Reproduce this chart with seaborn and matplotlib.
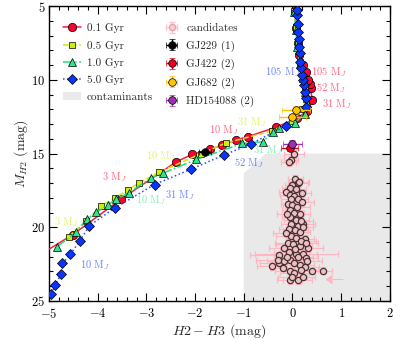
import matplotlib
matplotlib.use("Agg")
import matplotlib.pyplot as plt
import numpy as np
import seaborn as sns

# model tracks (H2-H3 colour, absolute H2 mag)
age_labels = ["0.1 Gyr", "0.5 Gyr", "1.0 Gyr", "5.0 Gyr"]

t01_x = [-5.2, -4.51, -3.52, -2.38, -2.06, -1.70, -1.44, -1.16, -0.92, -0.33, 0.10, 0.30,
         0.40, 0.38, 0.35, 0.32, 0.27, 0.22, 0.14, 0.11, 0.08, 0.05]
t01_y = [21.9, 20.5, 18.1, 15.55, 15.06, 14.72, 14.42, 14.08, 13.86, 13.2, 12.6, 12.1,
         11.4, 10.58, 10.3, 10.0, 9.45, 9.0, 8.3, 7.5, 6.5, 5.3]

t05_x = [-4.59, -4.23, -3.93, -3.65, -3.38, -3.14, -2.73, -1.87, -1.36, -0.42, 0.0, 0.20,
         0.28, 0.26, 0.22, 0.16, 0.11, 0.07, 0.04]
t05_y = [20.63, 19.55, 18.55, 18.04, 17.47, 16.98, 16.25, 15.0, 14.27, 13.47, 12.8, 12.0,
         11.3, 10.6, 9.8, 8.8, 7.6, 6.4, 5.3]

t10_x = [-4.83, -4.44, -4.22, -4.03, -3.79, -3.62, -3.36, -2.90, -2.65, -1.97, -1.03, -0.61,
         -0.40, -0.27, 0.05, 0.25, 0.30, 0.26, 0.21, 0.15, 0.10, 0.07, 0.04]
t10_y = [21.32, 20.34, 19.46, 18.99, 18.49, 18.1, 17.66, 16.65, 16.32, 15.4, 14.31, 14.2,
         13.52, 13.3, 12.9, 12.3, 11.6, 10.8, 9.9, 8.9, 7.8, 6.6, 5.4]

t50_x = [-4.95, -4.87, -4.75, -4.72, -4.56, -4.36, -4.17, -3.65, -2.83, -2.09, -1.41, -0.86,
         -0.13, 0.28, 0.27, 0.25, 0.23, 0.21, 0.19, 0.18, 0.16, 0.16, 0.14, 0.13, 0.12, 0.11,
         0.09, 0.09]
t50_y = [24.5, 23.94, 23.17, 22.45, 21.84, 20.9, 19.9, 18.7, 17.1, 16.07, 15.1, 14.36,
         13.1, 11.83, 11.26, 10.8, 10.36, 10.0, 9.68, 9.22, 8.78, 8.2, 7.76, 7.2, 6.74, 6.2,
         5.6, 5.27]

# mass labels along the tracks
mass_text = ["105 M$_J$", "105 M$_J$", "52 M$_J$", "31 M$_J$", "31 M$_J$", "10 M$_J$",
             "31 M$_J$", "52 M$_J$", "10 M$_J$", "3 M$_J$", "31 M$_J$", "10 M$_J$",
             "3 M$_J$", "10 M$_J$"]
mass_x = [-0.57, 0.39, 0.49, 0.61, -1.13, -1.72, -0.82, -1.19, -3.0, -3.9, -2.61, -3.21,
          -4.89, -4.37]
mass_y = [9.45, 9.45, 10.58, 11.64, 12.84, 13.4, 14.76, 15.67, 15.2, 16.57, 17.8, 18.15,
          19.62, 22.56]
mass_track = [3, 0, 0, 0, 1, 0, 2, 3, 1, 0, 3, 2, 1, 3]

# candidates
cand_x = [0.03, -0.03, -0.08, 0.06, 0.11, 0.00, -0.06, 0.08, -0.13, -0.06, 0.04, -0.03,
          0.11, -0.09, 0.00, 0.10, -0.06, 0.04, 0.15, -0.06, 0.08, -0.03, 0.11, 0.21,
          -0.08, 0.06, 0.15, -0.03, 0.08, 0.25, -0.10, 0.02, 0.15, 0.32, -0.27, -0.08,
          0.08, 0.21, 0.27, -0.27, -0.42, -0.17, -0.06, 0.04, 0.15, 0.25, -0.20, -0.06,
          0.04, 0.18, 0.40, 0.62, -0.06, 0.11, 0.00, 0.21, 0.13, 0.19, 0.20, -0.12,
          0.17, -0.14, 0.18, -0.18, 0.12, -0.12, 0.30, -0.30, 0.05, 0.28, 0.22]
cand_y = [15.03, 15.44, 15.6, 16.73, 17.02, 17.14, 17.36, 17.4, 17.6, 17.8, 17.9, 18.1,
          18.1, 18.45, 18.5, 18.6, 18.8, 19.0, 19.1, 19.3, 19.5, 19.8, 19.9, 19.78,
          20.1, 20.2, 20.3, 20.6, 20.7, 20.8, 21.05, 21.15, 21.3, 21.4, 21.9, 21.65,
          21.8, 21.8, 22.1, 22.4, 22.63, 22.3, 22.2, 22.45, 22.55, 22.67, 22.75, 23.0,
          23.1, 22.9, 22.95, 22.95, 23.6, 23.58, 23.35, 23.35, 16.9, 17.7, 18.3, 19.1,
          19.55, 20.4, 20.95, 21.4, 22.05, 22.0, 22.3, 22.2, 21.5, 21.1, 20.0]
cand_xerr = [0.2, 0.15, 0.15, 0.15, 0.2, 0.15, 0.15, 0.2, 0.15, 0.2, 0.15, 0.2,
             0.2, 0.15, 0.2, 0.25, 0.15, 0.2, 0.2, 0.15, 0.25, 0.2, 0.2, 0.25,
             0.2, 0.25, 0.2, 0.3, 0.2, 0.2, 0.25, 0.35, 0.25, 0.3, 0.6, 0.3,
             0.85, 0.3, 0.25, 0.4, 0.3, 0.35, 0.25, 0.3, 0.3, 0.3, 0.25, 0.3,
             0.3, 0.35, 0.25, 0.2, 0.25, 0.3, 0.3, 0.25, 0.2, 0.2, 0.25, 0.2,
             0.25, 0.25, 0.3, 0.3, 0.3, 0.25, 0.3, 0.45, 0.3, 0.25, 0.2]
cand_yerr = [0.25] * len(cand_x)

lim_x = [1.03]
lim_y = [23.5]
lim_xerr = [0.21]

# known companions
known_names = ["GJ229 (1)", "GJ422 (2)", "GJ682 (2)", "HD154088 (2)"]
known_x = [[-1.80], [-0.06], [0.07, 0.00], [0.00]]
known_y = [[14.9], [14.6], [12.05, 12.55], [14.35]]
known_xerr = [[0.12], [0.18], [0.28, 0.28], [0.2]]
known_yerr = [[0.15], [0.2], [0.25, 0.25], [0.25]]
known_colors = ["black", "#e8001c", "#ffc400", "#9b30b0"]

# contaminant region outline
contam_x = [-1.0, -1.0, -0.55, 2.0, 2.0]
contam_y = [25.0, 16.35, 15.0, 15.0, 25.0]

sns.set_theme(style="ticks")
plt.rcParams["font.family"] = "serif"
plt.rcParams["font.serif"] = ["cmr10", "DejaVu Serif"]
plt.rcParams["mathtext.fontset"] = "cm"
plt.rcParams["axes.formatter.use_mathtext"] = True
plt.rcParams["axes.unicode_minus"] = True

fig, ax = plt.subplots(figsize=(4.07, 3.42), dpi=100)
fig.subplots_adjust(left=0.12, right=0.958, top=0.982, bottom=0.12)

ax.fill(contam_x, contam_y, color="#e9e9e9", lw=0, zorder=0, label="contaminants")

# candidates
pink = "#ffb6c1"
ax.errorbar(cand_x, cand_y, xerr=cand_xerr, yerr=cand_yerr, fmt="o", ms=4.5,
            mfc="#e7c3c6", mec="#4a2e30", mew=0.9, ecolor=pink, elinewidth=0.8,
            capsize=2, capthick=0.8, zorder=2)
ax.errorbar(lim_x, lim_y, xerr=lim_xerr, xuplims=True, fmt="none", ecolor=pink,
            color=pink, elinewidth=0.8, zorder=2)
ax.errorbar([np.nan], [np.nan], xerr=[0.1], yerr=[0.1], fmt="o", ms=4.5,
            mfc="#f4d0d5", mec="#f0a0ac", ecolor="#ffc0cb", capsize=2,
            elinewidth=0.8, label="candidates")

# model tracks
tracks = [(t01_x, t01_y), (t05_x, t05_y), (t10_x, t10_y), (t50_x, t50_y)]
face = ["#ff0030", "#ccf000", "#2ee68a", "#0a35ff"]
line = ["#ff1a3c", "#d4e800", "#22dd80", "#2a4cff"]
mark = ["o", "s", "^", "D"]
msz = [6, 5, 6, 5]
lsty = ["-", "--", "-.", ":"]
for i, (tx, ty) in enumerate(tracks):
    sns.lineplot(x=tx, y=ty, sort=False, estimator=None, ax=ax, color=line[i],
                 linestyle=lsty[i], lw=1.1, marker=mark[i], markersize=msz[i],
                 markerfacecolor=face[i], markeredgecolor="black", markeredgewidth=0.5,
                 label=age_labels[i], zorder=3 + i * 0.1)

# mass labels
for t, x, y, k in zip(mass_text, mass_x, mass_y, mass_track):
    ax.text(x, y, t, color=face[k], alpha=0.6, fontsize=7.5, ha="left", va="center",
            zorder=5)

# known objects
for nm, x, y, xe, ye, c in zip(known_names, known_x, known_y, known_xerr, known_yerr,
                               known_colors):
    ax.errorbar(x, y, xerr=xe, yerr=ye, fmt="o", ms=5.5, mfc=c, mec="black", mew=0.5,
                ecolor=c, elinewidth=1, capsize=2.5, capthick=1, zorder=6, label=nm)

ax.set_xlim(-5, 2)
ax.set_ylim(25, 5)
ax.set_xticks(np.arange(-5, 3, 1))
ax.set_yticks(np.arange(5, 26, 5))
ax.set_xticks(np.arange(-5, 2.01, 0.2), minor=True)
ax.set_yticks(np.arange(5, 25.01, 1), minor=True)
ax.tick_params(which="both", direction="in", top=True, right=True, labelsize=9,
               width=0.8, colors="black")
ax.tick_params(axis="x", pad=4.5)
ax.tick_params(axis="y", pad=2.5)
ax.tick_params(which="major", length=6)
ax.tick_params(which="minor", length=3)
for s in ax.spines.values():
    s.set_linewidth(1.0)
    s.set_color("black")
ax.set_xlabel("$H2-H3$ (mag)", fontsize=10, labelpad=1)
ax.set_ylabel("$M_{H2}$ (mag)", fontsize=10, labelpad=1)

handles, labels = ax.get_legend_handles_labels()
order = age_labels + ["contaminants", "candidates"] + known_names
lookup = dict(zip(labels, handles))
ax.legend([lookup[o] for o in order], order, ncol=2, loc="upper left",
          bbox_to_anchor=(0.02, 0.968), frameon=False, fontsize=8, handlelength=1.6,
          handletextpad=0.5, columnspacing=0.9, labelspacing=0.65, borderaxespad=0.3)

fig.savefig("out.png", dpi=100)
